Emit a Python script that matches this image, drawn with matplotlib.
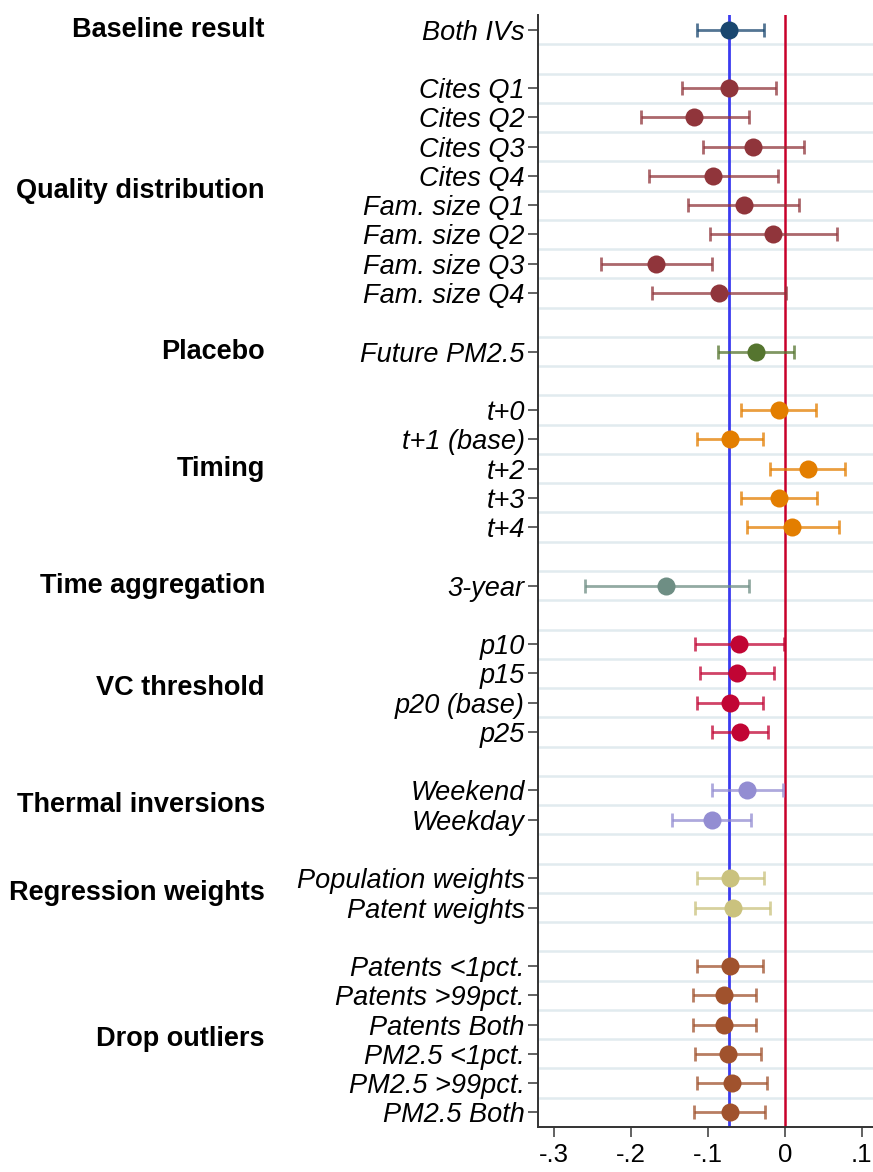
import matplotlib
matplotlib.use('Agg')
import matplotlib.pyplot as plt
import matplotlib.transforms as mtransforms
import numpy as np

plt.rcParams['font.family'] = ['Liberation Sans', 'DejaVu Sans']

group_names = ["Baseline result", "Quality distribution", "Placebo", "Timing",
               "Time aggregation", "VC threshold", "Thermal inversions",
               "Regression weights", "Drop outliers"]
group_colors = ["#1a476f", "#90353b", "#55752f", "#e37e00", "#6e8e84",
                "#c10534", "#938dd2", "#cac27e", "#a0522d"]

labels = ["Both IVs",
          "Cites Q1", "Cites Q2", "Cites Q3", "Cites Q4",
          "Fam. size Q1", "Fam. size Q2", "Fam. size Q3", "Fam. size Q4",
          "Future PM2.5",
          "t+0", "t+1 (base)", "t+2", "t+3", "t+4",
          "3-year",
          "p10", "p15", "p20 (base)", "p25",
          "Weekend", "Weekday",
          "Population weights", "Patent weights",
          "Patents <1pct.", "Patents >99pct.", "Patents Both",
          "PM2.5 <1pct.", "PM2.5 >99pct.", "PM2.5 Both"]
group_of = [0, 1, 1, 1, 1, 1, 1, 1, 1, 2, 3, 3, 3, 3, 3, 4, 5, 5, 5, 5,
            6, 6, 7, 7, 8, 8, 8, 8, 8, 8]

coef = [-0.072,
        -0.0725, -0.118, -0.0417, -0.0934,
        -0.0534, -0.0148, -0.1672, -0.0859,
        -0.0374,
        -0.0078, -0.0716, 0.0299, -0.0078, 0.0099,
        -0.1541,
        -0.0595, -0.0625, -0.0716, -0.0582,
        -0.0495, -0.0951,
        -0.0712, -0.0677,
        -0.0716, -0.0794, -0.0794, -0.0734, -0.0686, -0.0708]
ci_lo = [-0.1147,
         -0.1333, -0.1875, -0.1064, -0.1767,
         -0.1255, -0.0973, -0.2392, -0.1728,
         -0.0868,
         -0.0565, -0.1146, -0.0191, -0.0569, -0.0491,
         -0.2596,
         -0.1164, -0.1107, -0.1142, -0.0947,
         -0.0947, -0.1464,
         -0.1142, -0.1164,
         -0.1142, -0.1194, -0.1194, -0.1168, -0.1146, -0.1177]
ci_hi = [-0.0269,
         -0.0110, -0.0469, 0.0247, -0.0087,
         0.0191, 0.0677, -0.0947, 0.0013,
         0.0117,
         0.0408, -0.0286, 0.0790, 0.0421, 0.0707,
         -0.0465,
         -0.0013, -0.0135, -0.0278, -0.0213,
         -0.0026, -0.0439,
         -0.0270, -0.0191,
         -0.0278, -0.0378, -0.0378, -0.0309, -0.0230, -0.0253]

baseline = -0.072
xticks = [-0.3, -0.2, -0.1, 0.0, 0.1]
xticklabels = ["-.3", "-.2", "-.1", "0", ".1"]

# row positions: one blank row between groups
ypos = []
y = 0
for i, g in enumerate(group_of):
    if i > 0:
        y += 2 if g != group_of[i - 1] else 1
    ypos.append(y)
ypos = np.array(ypos)
nrows = ypos[-1]

W, H = 873, 1172
fig = plt.figure(figsize=(W / 100, H / 100), dpi=100)
ax = fig.add_axes([538 / W, 1 - 1127 / H, (W - 538) / W, (1127 - 15) / H])

# grid lines between rows
for k in range(nrows):
    ax.axhline(k + 0.5, color='#e1ebef', lw=1.8, zorder=0)

ax.axvline(baseline, color='#3b3bf0', lw=2.0, zorder=1)
ax.axvline(0, color='#c8002a', lw=1.8, zorder=1)

for i in range(len(labels)):
    col = group_colors[group_of[i]]
    ax.errorbar([coef[i]], [ypos[i]],
                xerr=[[coef[i] - ci_lo[i]], [ci_hi[i] - coef[i]]],
                fmt='none', ecolor=col, alpha=0.75, elinewidth=2.0,
                capsize=5.0, capthick=2.0, zorder=2)
    ax.plot([coef[i]], [ypos[i]], 'o', color=col, markersize=13,
            markeredgewidth=0, zorder=3)

ax.set_xlim(-0.3212, 0.1148)
ax.set_ylim(nrows + 0.5, -0.5)

ax.set_yticks(ypos)
ax.set_yticklabels(labels, fontstyle='italic', fontsize=19.5)
ax.set_xticks(xticks)
ax.set_xticklabels(xticklabels, fontsize=18.5)

for s in ['top', 'right']:
    ax.spines[s].set_visible(False)
for s in ['left', 'bottom']:
    ax.spines[s].set_color('#333333')
    ax.spines[s].set_linewidth(1.4)
ax.tick_params(axis='y', length=7, width=1.3, color='#555555', pad=2.5)
ax.tick_params(axis='x', length=7.5, width=1.3, color='#555555', pad=4)

trans = mtransforms.blended_transform_factory(fig.transFigure, ax.transData)
for gi, name in enumerate(group_names):
    ys = [ypos[i] for i in range(len(labels)) if group_of[i] == gi]
    ax.text(265 / W, (min(ys) + max(ys)) / 2, name, transform=trans,
            ha='right', va='center', fontweight='bold', fontsize=19.5,
            clip_on=False)

fig.savefig('out.png', dpi=100)
